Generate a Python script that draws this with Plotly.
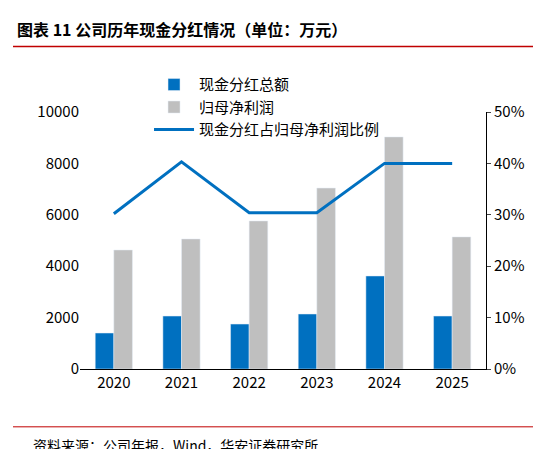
import plotly.graph_objects as go

years = ["2020", "2021", "2022", "2023", "2024", "2025"]
dividend = [1400, 2060, 1750, 2140, 3620, 2060]
net_profit = [4630, 5060, 5760, 7040, 9030, 5140]
payout_ratio = [30.2, 40.3, 30.4, 30.4, 40.0, 40.0]

fig = go.Figure()
fig.add_trace(go.Bar(x=years, y=dividend, name="现金分红总额", marker_color="#0070C0", offsetgroup="a"))
fig.add_trace(go.Bar(x=years, y=net_profit, name="归母净利润", marker_color="#BFBFBF", offsetgroup="b"))
fig.add_trace(go.Scatter(x=years, y=payout_ratio, name="现金分红占归母净利润比例", yaxis="y2",
                         mode="lines", line=dict(color="#0070C0", width=3)))

font = "Noto Sans CJK SC"
fig.update_layout(
    width=541, height=449,
    margin=dict(l=72, r=63, t=104, b=88, autoexpand=False),
    plot_bgcolor="white", paper_bgcolor="white",
    font=dict(family=font, size=15, color="black"),
    bargap=0.45, bargroupgap=0.0,
    showlegend=True,
    legend=dict(x=0.17, y=1.17, xanchor="left", yanchor="top", bgcolor="rgba(0,0,0,0)",
                font=dict(size=15), tracegroupgap=0, itemwidth=40),
    xaxis=dict(showline=True, linecolor="black", ticks="", showgrid=False),
    yaxis=dict(range=[0, 10000], dtick=2000, showgrid=False, showline=False, ticks="",
               tickformat="d", tickfont=dict(size=15)),
    yaxis2=dict(range=[0, 50], dtick=10, overlaying="y", side="right", ticksuffix="%",
                showgrid=False, showline=True, linecolor="black", ticks="outside",
                ticklen=4, tickfont=dict(size=15)),
)
fig.add_annotation(text="<b>图表 11 公司历年现金分红情况（单位：万元）</b>", xref="paper", yref="paper",
                   x=-0.16, y=1.27, xanchor="left", yanchor="bottom", showarrow=False,
                   font=dict(size=16, color="black", family=font))
fig.add_shape(type="line", xref="paper", yref="paper", x0=-0.165, x1=1.14, y0=1.255, y1=1.255,
              line=dict(color="#C00000", width=1.5))
fig.add_annotation(text="资料来源：公司年报，Wind，华安证券研究所", xref="paper", yref="paper",
                   x=-0.12, y=-0.25, xanchor="left", yanchor="top", showarrow=False,
                   font=dict(size=14, family=font))
fig.add_shape(type="line", xref="paper", yref="paper", x0=-0.165, x1=1.14, y0=-0.225, y1=-0.225,
              line=dict(color="#C00000", width=1))
fig.write_html("out.html")
